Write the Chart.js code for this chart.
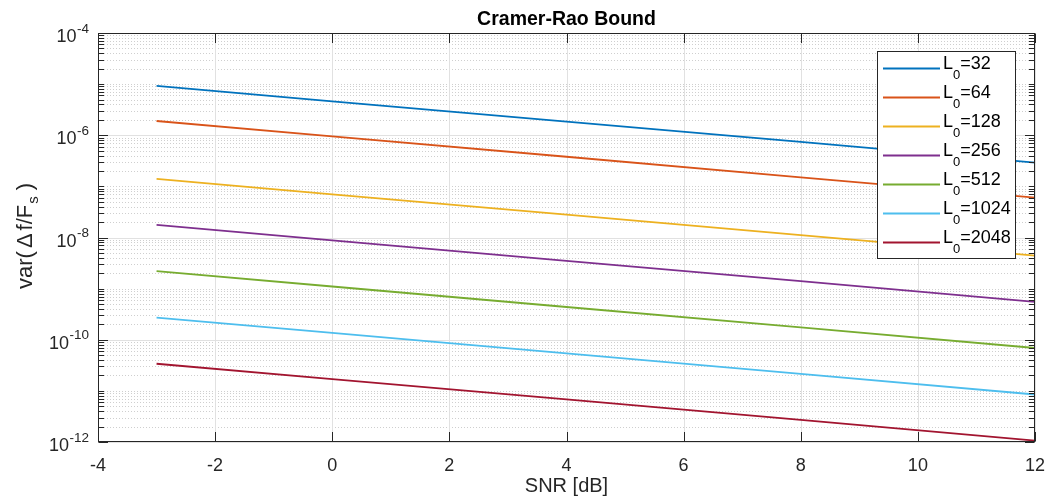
<!DOCTYPE html>
<html>
<head>
<meta charset="utf-8">
<script src="https://cdn.jsdelivr.net/npm/chart.js@4"></script>
<style>
html,body{margin:0;padding:0;background:#fff;}
#wrap{width:1045px;height:502px;}
</style>
</head>
<body>
<div id="wrap"><canvas id="c" width="1045" height="502"></canvas></div>
<script>
// ---- data ----
const snrDb = [-3, 0, 4, 8, 12];
const seriesNames = ['32', '64', '128', '256', '512', '1024', '2048'];
const varL32   = [9.2e-6, 4.61e-6, 1.84e-6, 7.4e-7, 2.91e-7];
const varL64   = [1.9e-6, 9.5e-7, 3.8e-7, 1.5e-7, 6.0e-8];
const varL128  = [1.40e-7, 7.0e-8, 2.79e-8, 1.11e-8, 4.43e-9];
const varL256  = [1.76e-8, 8.8e-9, 3.5e-9, 1.40e-9, 5.5e-10];
const varL512  = [2.19e-9, 1.10e-9, 4.37e-10, 1.74e-10, 6.9e-11];
const varL1024 = [2.72e-10, 1.36e-10, 5.4e-11, 2.15e-11, 8.5e-12];
const varL2048 = [3.39e-11, 1.70e-11, 6.8e-12, 2.7e-12, 1.06e-12];
const xTicks = [-4, -2, 0, 2, 4, 6, 8, 10, 12];
const yLabelExps = [-12, -10, -8, -6, -4];

const colors = ['#0072BD', '#D95319', '#EDB120', '#7E2F8E', '#77AC30', '#4DBEEE', '#A2142F'];
const allSeries = [varL32, varL64, varL128, varL256, varL512, varL1024, varL2048];

const FONT = '"Liberation Sans", Arial, Helvetica, sans-serif';
const AX = '#262626';

const datasets = allSeries.map((vals, i) => ({
  label: 'L0=' + seriesNames[i],
  data: vals.map((v, j) => ({x: snrDb[j], y: v})),
  borderColor: colors[i],
  backgroundColor: colors[i],
  borderWidth: 1.8,
  pointRadius: 0,
  showLine: true,
  fill: false,
  tension: 0
}));

const decor = {
  id: 'decor',
  beforeDatasetsDraw(chart) {
    const {ctx, chartArea: a, scales: {x, y}} = chart;
    ctx.save();
    ctx.fillStyle = '#fff';
    ctx.fillRect(a.left, a.top, a.right - a.left, a.bottom - a.top);
    // minor y grid (dotted)
    ctx.strokeStyle = 'rgba(38,38,38,0.22)';
    ctx.lineWidth = 1;
    ctx.setLineDash([1, 2]);
    for (let e = -12; e < -4; e++) {
      for (let m = 1; m <= 9; m++) {
        if (m === 1 && (e % 2 === 0)) continue;
        const py = Math.round(y.getPixelForValue(m * Math.pow(10, e))) + 0.5;
        ctx.beginPath(); ctx.moveTo(a.left, py); ctx.lineTo(a.right, py); ctx.stroke();
      }
    }
    ctx.setLineDash([]);
    // major grid
    ctx.strokeStyle = '#e1e1e1';
    for (const ex of yLabelExps) {
      const py = Math.round(y.getPixelForValue(Math.pow(10, ex))) + 0.5;
      ctx.beginPath(); ctx.moveTo(a.left, py); ctx.lineTo(a.right, py); ctx.stroke();
    }
    for (const t of xTicks) {
      const px = Math.round(x.getPixelForValue(t)) + 0.5;
      ctx.beginPath(); ctx.moveTo(px, a.top); ctx.lineTo(px, a.bottom); ctx.stroke();
    }
    ctx.restore();
  },
  afterDatasetsDraw(chart) {
    const {ctx, chartArea: a, scales: {x, y}} = chart;
    ctx.save();
    // ticks
    ctx.strokeStyle = AX;
    ctx.lineWidth = 1;
    const L = Math.round(a.left) + 0.5, R = Math.round(a.right) - 0.5;
    const T = Math.round(a.top) + 0.5, B = Math.round(a.bottom) - 0.5;
    for (const t of xTicks) {
      const px = Math.round(x.getPixelForValue(t)) + 0.5;
      ctx.beginPath(); ctx.moveTo(px, B); ctx.lineTo(px, B - 9.5); ctx.stroke();
      ctx.beginPath(); ctx.moveTo(px, T); ctx.lineTo(px, T + 9.5); ctx.stroke();
    }
    for (let e = -12; e <= -4; e++) {
      for (let m = 1; m <= 9; m++) {
        if (e === -4 && m > 1) break;
        const major = (m === 1 && e % 2 === 0);
        const len = major ? 9.5 : 5.5;
        const py = Math.round(y.getPixelForValue(m * Math.pow(10, e))) + 0.5;
        ctx.beginPath(); ctx.moveTo(L, py); ctx.lineTo(L + len, py); ctx.stroke();
        ctx.beginPath(); ctx.moveTo(R, py); ctx.lineTo(R - len, py); ctx.stroke();
      }
    }
    // box
    ctx.strokeRect(L, T, R - L, B - T);

    // x tick labels
    ctx.fillStyle = AX;
    ctx.textBaseline = 'alphabetic';
    ctx.textAlign = 'center';
    ctx.font = '18px ' + FONT;
    for (const t of xTicks) {
      ctx.fillText(String(t), x.getPixelForValue(t), 470.5);
    }

    // y tick labels 10^e
    for (const ex of yLabelExps) {
      const py = y.getPixelForValue(Math.pow(10, ex));
      ctx.font = '13.5px ' + FONT;
      ctx.textAlign = 'right';
      const es = String(ex);
      ctx.fillText(es, 89, py - 0.5);
      const ew = ctx.measureText(es).width;
      ctx.font = '18px ' + FONT;
      ctx.fillText('10', 89 - ew - 0.5, py + 9);
    }

    // title
    const cx = (a.left + a.right) / 2;
    ctx.textAlign = 'center';
    ctx.font = 'bold 19.5px ' + FONT;
    ctx.fillStyle = '#000';
    ctx.fillText('Cramer-Rao Bound', cx, 25);

    // x label
    ctx.fillStyle = AX;
    ctx.font = '20px ' + FONT;
    ctx.fillText('SNR [dB]', cx, 492);

    // y label: var(Δf/F_s)
    ctx.save();
    ctx.translate(32, 289);
    ctx.rotate(-Math.PI / 2);
    ctx.textAlign = 'left';
    const big = '22px ' + FONT;
    ctx.font = big;
    let w = 0;
    const put = (s, dx, dy, f) => { ctx.font = f; ctx.fillText(s, w + dx, dy); w += dx + ctx.measureText(s).width; };
    put('var(', 0, 0, big);
    put('\u0394', 3, 0, big);
    put('f/F', 3, 0, big);
    put('s', 1, 6, '15px ' + FONT);
    put(')', 6, 0, big);
    ctx.restore();

    // legend
    const lx = 877.5, ly = 51.5, lw = 138, lh = 207;
    ctx.fillStyle = '#fff';
    ctx.fillRect(lx, ly, lw, lh);
    ctx.strokeStyle = AX;
    ctx.strokeRect(lx, ly, lw, lh);
    chart.data.datasets.forEach((ds, i) => {
      const iy = 68.5 + i * 29;
      ctx.strokeStyle = ds.borderColor;
      ctx.lineWidth = 1.8;
      ctx.beginPath(); ctx.moveTo(883, iy); ctx.lineTo(940, iy); ctx.stroke();
      ctx.fillStyle = '#000';
      ctx.textAlign = 'left';
      ctx.font = '18px ' + FONT;
      ctx.fillText('L', 943, iy + 0.5);
      let tx = 943 + ctx.measureText('L').width;
      ctx.font = '13px ' + FONT;
      ctx.fillText('0', tx, iy + 10);
      tx += ctx.measureText('0').width;
      ctx.font = '18px ' + FONT;
      ctx.fillText('=' + seriesNames[i], tx, iy + 0.5);
    });
    ctx.restore();
  }
};

new Chart(document.getElementById('c'), {
  type: 'scatter',
  data: {datasets},
  options: {
    responsive: false,
    animation: false,
    devicePixelRatio: 1,
    layout: {padding: {top: 33, left: 0, right: 10, bottom: 0}},
    plugins: {legend: {display: false}, title: {display: false}, tooltip: {enabled: false}},
    scales: {
      x: {
        type: 'linear', min: -4, max: 12,
        grid: {display: false, drawTicks: false},
        border: {display: false},
        ticks: {display: false},
        afterFit: (s) => { s.height = 60; }
      },
      y: {
        type: 'logarithmic', min: 1e-12, max: 1e-4,
        grid: {display: false, drawTicks: false},
        border: {display: false},
        ticks: {display: false},
        afterFit: (s) => { s.width = 98; }
      }
    }
  },
  plugins: [decor]
});
</script>
</body>
</html>
